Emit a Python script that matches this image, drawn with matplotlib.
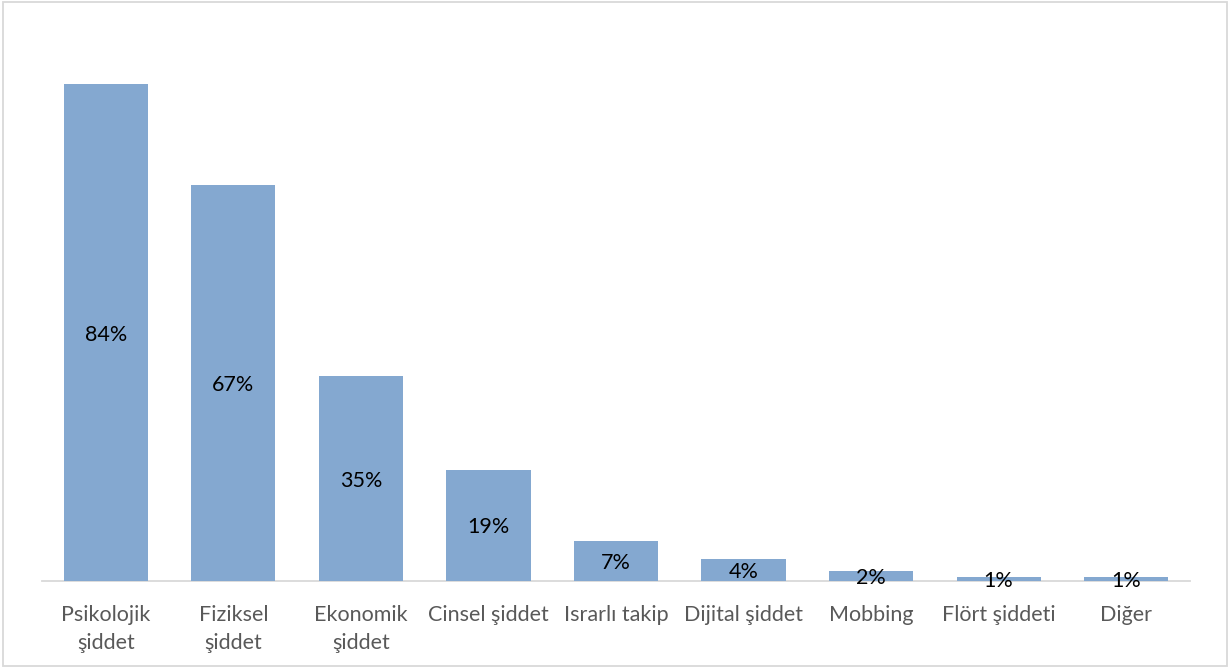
import numpy as np
import matplotlib.pyplot as plt
from matplotlib.patches import Rectangle

# kategoriler ve oranlar (%)
categories = ["Psikolojik\nşiddet", "Fiziksel\nşiddet", "Ekonomik\nşiddet", "Cinsel şiddet",
              "Israrlı takip", "Dijital şiddet", "Mobbing", "Flört şiddeti", "Diğer"]
values = [84.0, 67.0, 34.6, 18.8, 6.8, 3.7, 1.7, 0.7, 0.7]

BAR_COLOR = "#84A8D0"

plt.rcParams["font.family"] = ["Lato", "DejaVu Sans"]

fig = plt.figure(figsize=(12.31, 6.67), dpi=100)
W, H = 1231, 667
ax = fig.add_axes([42 / W, (H - 581) / H, (1190 - 42) / W, (581 - 49) / H])

x = np.arange(len(categories))
bars = ax.bar(x, values, width=0.66, color=BAR_COLOR, zorder=2)

for b, v in zip(bars, values):
    ax.text(b.get_x() + b.get_width() / 2, v / 2, f"{v:.0f}%",
            ha="center", va="center_baseline", fontsize=15.5, color="black", zorder=3)

ax.set_xlim(-0.5, len(categories) - 0.5)
ax.set_ylim(0, 90)
ax.set_yticks([])
ax.set_xticks(x)
ax.set_xticklabels(categories, fontsize=15.5, color="#595959", linespacing=1.5)
ax.tick_params(axis="x", length=0, pad=17)

for s in ["top", "right", "left"]:
    ax.spines[s].set_visible(False)
ax.spines["bottom"].set_color("#D9D9D9")
ax.spines["bottom"].set_linewidth(1.3)
ax.spines["bottom"].set_zorder(1)

# çerçeve
fig.patches.append(Rectangle((3 / W, 1 / H), (1227 - 3) / W, (665 - 1) / H,
                             transform=fig.transFigure, fill=False,
                             edgecolor="#D9D9D9", linewidth=1.3))

fig.savefig("out.png", dpi=100)
